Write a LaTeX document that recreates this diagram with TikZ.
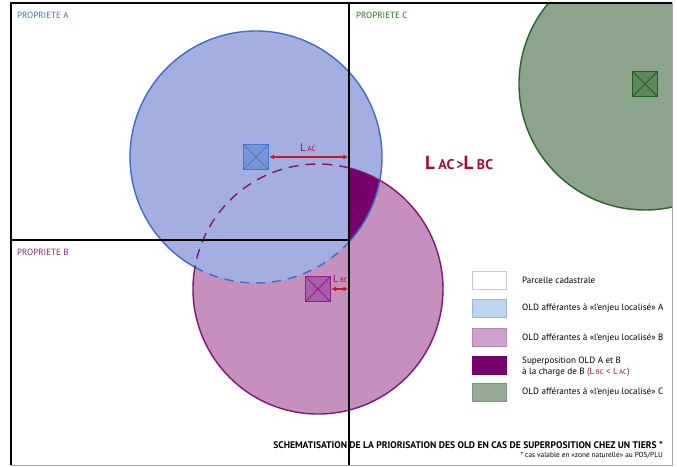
\documentclass[tikz,border=0pt]{standalone}
\usepackage{fontspec}
\setmainfont{PT Sans}
\usetikzlibrary{arrows.meta}
\definecolor{Afill}{RGB}{165,174,224}
\definecolor{Aline}{RGB}{62,110,192}
\definecolor{Bfill}{RGB}{197,143,190}
\definecolor{Bline}{RGB}{128,20,120}
\definecolor{darkP}{RGB}{118,0,108}
\definecolor{Cfill}{RGB}{139,164,139}
\definecolor{Cline}{RGB}{40,100,40}
\definecolor{arrRed}{RGB}{195,25,45}
\definecolor{txtRed}{RGB}{165,15,45}
\definecolor{tA}{RGB}{70,110,180}
\definecolor{tB}{RGB}{130,40,130}
\definecolor{tC}{RGB}{40,110,40}
\definecolor{lgA}{RGB}{190,213,240}
\definecolor{lgB}{RGB}{205,160,205}
\definecolor{lgC}{RGB}{150,170,150}
\definecolor{lgW}{RGB}{200,200,200}
\definecolor{mA}{RGB}{120,150,215}
\definecolor{mAl}{RGB}{70,120,200}
\definecolor{mB}{RGB}{170,95,170}
\definecolor{mBl}{RGB}{140,30,140}
\definecolor{mC}{RGB}{95,135,95}
\definecolor{mCl}{RGB}{30,95,30}
\tikzset{
  marker/.style 2 args={draw=#1, fill=#2, line width=1.3pt, minimum size=25pt, inner sep=0pt,
    path picture={\draw[#1, line width=0.9pt] (path picture bounding box.north west) -- (path picture bounding box.south east)
      (path picture bounding box.north east) -- (path picture bounding box.south west);}},
  ptitle/.style={anchor=west, font=\fontsize{9}{10}\selectfont, inner sep=0pt},
  lgbox/.style={minimum width=34pt, minimum height=18pt, inner sep=0pt, line width=0.4pt},
  lgtext/.style={anchor=west, font=\fontsize{9.1}{11}\selectfont, inner sep=0pt, align=left},
  dimarrow/.style={arrRed, line width=1.1pt, {Latex[length=5pt,width=5pt]}-{Latex[length=5pt,width=5pt]}},
  frameline/.style={line width=1.5pt, black},
  circ/.style={line width=1.4pt},
}
\newcommand{\Lsub}[3]{{\fontsize{#1}{#1}\selectfont L}\,{\fontsize{#2}{#2}\selectfont #3}}
\begin{document}
\begin{tikzpicture}[x=1pt,y=1pt]
\useasboundingbox (0,0) rectangle (677,466);
\fill[white] (0,0) rectangle (677,466);
% circle fills
\fill[Bfill] (318,177) circle (125);
\fill[Afill] (256,309) circle (126);
\begin{scope}
  \clip (349,0) rectangle (677,466);
  \clip (256,309) circle (126);
  \fill[darkP] (318,177) circle (125);
\end{scope}
\begin{scope}
  \clip (11,1) rectangle (672,463);
  \fill[Cfill] (645,382) circle (126);
  \draw[Cline, circ] (645,382) circle (126);
\end{scope}
% circle outlines
\draw[Aline, circ] (256,309) ++(-42.4:126) arc[start angle=-42.4, end angle=241, radius=126];
\draw[Aline, circ, dash pattern=on 9pt off 7pt] (256,309) ++(241:126) arc[start angle=241, end angle=317.6, radius=126];
\draw[Bline, circ] (318,177) ++(169.95:125) arc[start angle=169.95, end angle=435.6, radius=125];
\draw[Bline, circ, dash pattern=on 10pt off 7pt] (318,177) ++(75.6:125) arc[start angle=75.6, end angle=169.95, radius=125];
% frame
\draw[gray!70, line width=0.8pt] (11,1) -- (672,1) -- (672,463);
\draw[frameline] (11,1) -- (11,463) -- (672,463);
\coordinate (vtop) at (349,463);
\coordinate (vbot) at (349,1);
\coordinate (hl) at (11,226);
\coordinate (hr) at (349,226);
\draw[frameline] (vtop) -- (vbot);
\draw[frameline] (hl) -- (hr);
% property labels
\node[ptitle, text=tA] (pa) at (17,451) {PROPRIETE A};
\node[ptitle, text=tC] (pc) at (356,451) {PROPRIETE C};
\node[ptitle, text=tB] (pb) at (17,214) {PROPRIETE B};
% markers
\node[marker={mAl}{mA}] (sqA) at (256,309) {};
\node[marker={mBl}{mB}] (sqB) at (318,177) {};
\node[marker={mCl}{mC}] (sqC) at (645,382) {};
% dimension arrows
\coordinate (eA) at (348.3,309);
\coordinate (eB) at (348.3,177);
\draw[dimarrow] (sqA.east) -- (eA);
\draw[dimarrow] (sqB.east) -- (eB);
\node[text=txtRed, inner sep=0pt] (lac) at (308,318) {\Lsub{11}{7.5}{AC}};
\node[text=txtRed, inner sep=0pt, anchor=west] (lbc) at (333,187) {\Lsub{10}{6.5}{BC}};
\node[text=txtRed, inner sep=0pt, anchor=west, font=\bfseries] (cmp) at (425,303)
  {{\fontsize{19}{19}\selectfont L}\kern3.5pt{\fontsize{14}{14}\selectfont AC\kern2pt>}{\fontsize{19}{19}\selectfont L}\kern3.5pt{\fontsize{14}{14}\selectfont BC}};
% legend
\node[lgbox, draw=lgW, fill=white] (lg1) at (489,185.5) {};
\node[lgbox, draw=lgA!85!black, fill=lgA] (lg2) at (489,158) {};
\node[lgbox, draw=lgB!85!black, fill=lgB] (lg3) at (489,129) {};
\node[lgbox, draw=darkP, fill=darkP] (lg4) at (489,100.5) {};
\node[lgbox, draw=lgC!85!black, fill=lgC] (lg5) at (489,73.5) {};
\node[lgtext] (lt1) at (522,185.5) {Parcelle cadastrale};
\node[lgtext] (lt2) at (522,158) {OLD afférantes à «l'enjeu localisé» A};
\node[lgtext] (lt3) at (522,128) {OLD afférantes à «l'enjeu localisé» B};
\node[lgtext] (lt4) at (522,99.5) {Superposition OLD A et B\\à la charge de B {\color{txtRed}(\Lsub{9.1}{6.8}{BC} < \Lsub{9.1}{6.8}{AC})}};
\node[lgtext] (lt5) at (522,74) {OLD afférantes à «l'enjeu localisé» C};
% titles
\node[anchor=east, inner sep=0pt, font=\bfseries\fontsize{9.6}{10}\selectfont] (title) at (663,21)
  {SCHEMATISATION DE LA PRIORISATION DES OLD EN CAS DE SUPERPOSITION CHEZ UN TIERS *};
\node[anchor=east, inner sep=0pt, font=\fontsize{7.3}{8}\selectfont] (sub) at (663,11)
  {* cas valable en «zone naturelle» au POS/PLU};
\end{tikzpicture}
\end{document}
